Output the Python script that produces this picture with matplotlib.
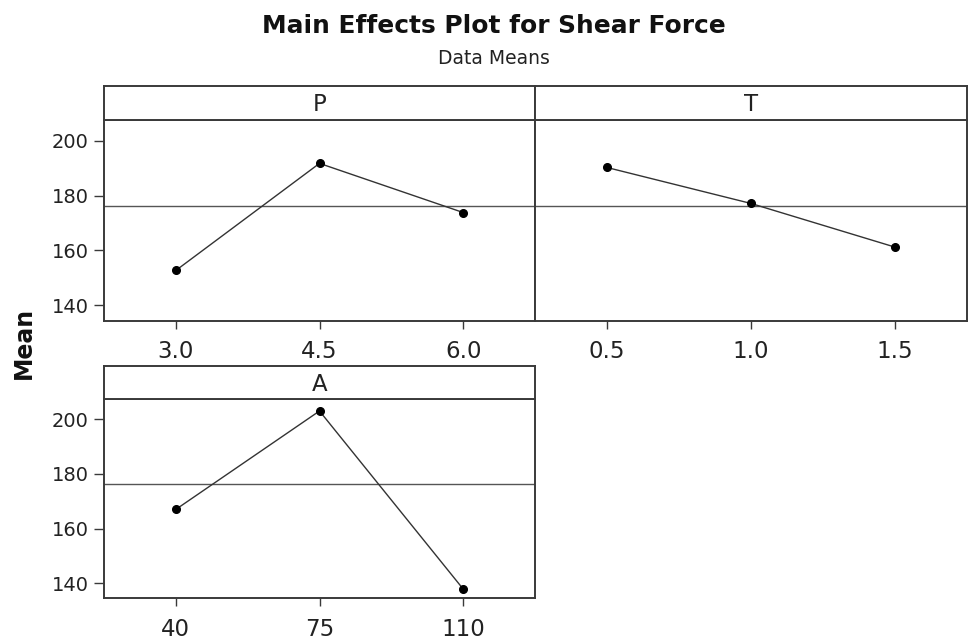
import matplotlib
matplotlib.use("Agg")
import matplotlib.pyplot as plt

# ---- data ----
factors = ["P", "T", "A"]
p_levels = ["3.0", "4.5", "6.0"]
p_means = [152.7, 191.7, 173.8]
t_levels = ["0.5", "1.0", "1.5"]
t_means = [190.2, 177.1, 161.2]
a_levels = ["40", "75", "110"]
a_means = [167.0, 203.1, 137.8]
grand_mean = 176.3
y_ticks = [140, 160, 180, 200]
y_limits = (134.4, 207.5)

W, H = 968, 640
fig = plt.figure(figsize=(W / 100, H / 100), dpi=100)
plt.rcParams['font.family'] = ['DejaVu Sans']

frame_col = "#3a3a3a"
text_col = "#222222"


def px_rect(left, right, top, bottom):
    return [left / W, 1 - bottom / H, (right - left) / W, (bottom - top) / H]


panels = [
    ("P", p_levels, p_means, (104, 535, 86, 120, 320.7), True),
    ("T", t_levels, t_means, (535, 967, 86, 120, 320.7), False),
    ("A", a_levels, a_means, (104, 535, 365.7, 399, 598.3), True),
]

for name, levels, means, (l, r, t, hb, b), show_y in panels:
    ax = fig.add_axes(px_rect(l, r, hb, b))
    xs = list(range(len(levels)))
    ax.axhline(grand_mean, color="#555555", lw=1.0, zorder=1)
    ax.plot(xs, means, color="#333333", lw=1.0, marker="o", ms=5.5,
            mfc="black", mec="black", zorder=3)
    ax.set_xlim(-0.5, len(levels) - 0.5)
    ax.set_ylim(*y_limits)
    ax.set_xticks(xs)
    ax.set_xticklabels(levels, fontsize=16.5, color=text_col)
    ax.set_yticks(y_ticks)
    if show_y:
        ax.set_yticklabels([str(v) for v in y_ticks], fontsize=14, color=text_col)
        ax.tick_params(axis="y", length=7, width=1.0, color=frame_col, pad=4)
    else:
        ax.tick_params(axis="y", left=False, labelleft=False)
    ax.tick_params(axis="x", length=6, width=1.0, color=frame_col, pad=8)
    for s in ax.spines.values():
        s.set_color(frame_col)
        s.set_linewidth(1.4)

    hax = fig.add_axes(px_rect(l, r, t, hb))
    hax.set_xticks([])
    hax.set_yticks([])
    for s in hax.spines.values():
        s.set_color(frame_col)
        s.set_linewidth(1.4)
    hax.text(0.5, 0.45, name, ha="center", va="center", fontsize=16.5,
             color=text_col, transform=hax.transAxes)

fig.text(494 / W, 1 - 26 / H, "Main Effects Plot for Shear Force",
         ha="center", va="center", fontsize=17.9, fontweight="bold", color="#111111")
fig.text(494 / W, 1 - 59 / H, "Data Means", ha="center", va="center",
         fontsize=13.5, color=text_col)
fig.text(24 / W, 1 - 343 / H, "Mean", ha="center", va="center", rotation=90,
         fontsize=17, fontweight="bold", color="#111111")

fig.savefig("out.png", dpi=100)
